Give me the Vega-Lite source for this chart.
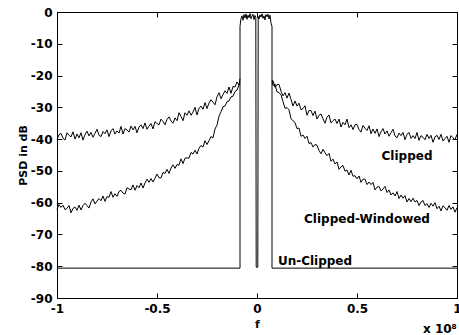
{
  "$schema": "https://vega.github.io/schema/vega-lite/v6.json",
  "width": 400,
  "height": 286,
  "autosize": "none",
  "padding": {"left": 57, "top": 12, "right": 2, "bottom": 37},
  "background": "white",
  "config": {
    "view": {"stroke": "black", "strokeWidth": 1},
    "axis": {
      "grid": false,
      "domainColor": "black",
      "tickColor": "black",
      "labelColor": "black",
      "titleColor": "black",
      "labelFont": "DejaVu Sans",
      "titleFont": "DejaVu Sans",
      "labelFontWeight": "bold",
      "titleFontWeight": "bold",
      "labelFontSize": 12,
      "titleFontSize": 11,
      "tickSize": -5,
      "domainWidth": 1,
      "tickWidth": 1
    }
  },
  "datasets": {
    "psd": [
      {"s":"L","f":-1.00,"c":-40.2,"w":-62.1},{"s":"L","f":-0.99,"c":-38.6,"w":-60.6},{"s":"L","f":-0.98,"c":-38.2,"w":-61.5},{"s":"L","f":-0.97,"c":-39.7,"w":-60.8},{"s":"L","f":-0.96,"c":-40.3,"w":-62.2},{"s":"L","f":-0.95,"c":-38.0,"w":-61.8},{"s":"L","f":-0.94,"c":-38.8,"w":-60.9},{"s":"L","f":-0.93,"c":-39.3,"w":-63.2},{"s":"L","f":-0.92,"c":-37.7,"w":-61.8},{"s":"L","f":-0.91,"c":-40.0,"w":-61.4},
      {"s":"L","f":-0.90,"c":-38.4,"w":-62.4},{"s":"L","f":-0.89,"c":-39.6,"w":-60.8},{"s":"L","f":-0.88,"c":-38.0,"w":-62.3},{"s":"L","f":-0.87,"c":-40.3,"w":-60.9},{"s":"L","f":-0.86,"c":-38.6,"w":-60.2},{"s":"L","f":-0.85,"c":-37.5,"w":-60.9},{"s":"L","f":-0.84,"c":-39.0,"w":-61.7},{"s":"L","f":-0.83,"c":-37.9,"w":-59.8},{"s":"L","f":-0.82,"c":-39.4,"w":-58.8},{"s":"L","f":-0.81,"c":-38.2,"w":-60.4},
      {"s":"L","f":-0.80,"c":-36.9,"w":-59.5},{"s":"L","f":-0.79,"c":-38.8,"w":-58.7},{"s":"L","f":-0.78,"c":-39.2,"w":-59.4},{"s":"L","f":-0.77,"c":-37.6,"w":-57.9},{"s":"L","f":-0.76,"c":-38.3,"w":-59.6},{"s":"L","f":-0.75,"c":-37.1,"w":-58.1},{"s":"L","f":-0.74,"c":-39.2,"w":-58.3},{"s":"L","f":-0.73,"c":-37.4,"w":-56.5},{"s":"L","f":-0.72,"c":-36.7,"w":-58.3},{"s":"L","f":-0.71,"c":-38.4,"w":-57.2},
      {"s":"L","f":-0.70,"c":-37.4,"w":-58.0},{"s":"L","f":-0.69,"c":-38.1,"w":-56.5},{"s":"L","f":-0.68,"c":-36.0,"w":-56.1},{"s":"L","f":-0.67,"c":-38.4,"w":-57.0},{"s":"L","f":-0.66,"c":-36.7,"w":-57.3},{"s":"L","f":-0.65,"c":-37.1,"w":-55.3},{"s":"L","f":-0.64,"c":-37.8,"w":-55.7},{"s":"L","f":-0.63,"c":-35.9,"w":-55.9},{"s":"L","f":-0.62,"c":-37.1,"w":-54.4},{"s":"L","f":-0.61,"c":-36.0,"w":-56.1},
      {"s":"L","f":-0.60,"c":-38.0,"w":-54.6},{"s":"L","f":-0.59,"c":-36.2,"w":-55.3},{"s":"L","f":-0.58,"c":-35.5,"w":-53.8},{"s":"L","f":-0.57,"c":-36.7,"w":-55.4},{"s":"L","f":-0.56,"c":-34.9,"w":-53.8},{"s":"L","f":-0.55,"c":-36.9,"w":-52.6},{"s":"L","f":-0.54,"c":-35.9,"w":-53.6},{"s":"L","f":-0.53,"c":-35.1,"w":-52.4},{"s":"L","f":-0.52,"c":-36.8,"w":-53.5},{"s":"L","f":-0.51,"c":-34.5,"w":-52.3},
      {"s":"L","f":-0.50,"c":-35.1,"w":-51.0},{"s":"L","f":-0.49,"c":-35.5,"w":-52.2},{"s":"L","f":-0.48,"c":-33.7,"w":-52.2},{"s":"L","f":-0.47,"c":-34.4,"w":-50.5},{"s":"L","f":-0.46,"c":-35.5,"w":-50.8},{"s":"L","f":-0.45,"c":-33.8,"w":-49.5},{"s":"L","f":-0.44,"c":-33.0,"w":-50.8},{"s":"L","f":-0.43,"c":-34.3,"w":-49.1},{"s":"L","f":-0.42,"c":-35.0,"w":-48.1},{"s":"L","f":-0.41,"c":-33.3,"w":-49.2},
      {"s":"L","f":-0.40,"c":-34.2,"w":-48.0},{"s":"L","f":-0.39,"c":-31.7,"w":-48.2},{"s":"L","f":-0.38,"c":-32.9,"w":-46.2},{"s":"L","f":-0.37,"c":-34.2,"w":-47.7},{"s":"L","f":-0.36,"c":-31.7,"w":-46.0},{"s":"L","f":-0.35,"c":-32.5,"w":-45.9},{"s":"L","f":-0.34,"c":-31.1,"w":-46.0},{"s":"L","f":-0.33,"c":-32.5,"w":-44.2},{"s":"L","f":-0.32,"c":-31.5,"w":-44.7},{"s":"L","f":-0.31,"c":-30.0,"w":-43.5},
      {"s":"L","f":-0.30,"c":-32.4,"w":-44.7},{"s":"L","f":-0.29,"c":-30.3,"w":-42.9},{"s":"L","f":-0.28,"c":-29.6,"w":-42.0},{"s":"L","f":-0.27,"c":-30.6,"w":-42.5},{"s":"L","f":-0.26,"c":-28.5,"w":-40.5},{"s":"L","f":-0.25,"c":-30.4,"w":-41.7},{"s":"L","f":-0.24,"c":-28.6,"w":-40.5},{"s":"L","f":-0.23,"c":-27.6,"w":-39.2},{"s":"L","f":-0.22,"c":-28.4,"w":-39.6},{"s":"L","f":-0.21,"c":-29.2,"w":-36.8},
      {"s":"L","f":-0.20,"c":-26.7,"w":-35.6},{"s":"L","f":-0.19,"c":-25.4,"w":-32.8},{"s":"L","f":-0.18,"c":-27.3,"w":-31.4},{"s":"L","f":-0.17,"c":-26.0,"w":-29.8},{"s":"L","f":-0.16,"c":-24.8,"w":-29.6},{"s":"L","f":-0.15,"c":-25.6,"w":-28.2},{"s":"L","f":-0.14,"c":-23.6,"w":-28.0},{"s":"L","f":-0.13,"c":-25.6,"w":-26.7},{"s":"L","f":-0.12,"c":-23.4,"w":-26.5},{"s":"L","f":-0.11,"c":-23.6,"w":-25.0},
      {"s":"L","f":-0.10,"c":-22.0,"w":-24.6},{"s":"L","f":-0.09,"c":-23.0,"w":-23.0},{"s":"L","f":-0.085,"c":-21.0,"w":-22.0},
      {"s":"R","f":0.075,"c":-21.6,"w":-21.6},{"s":"R","f":0.08,"c":-21.6,"w":-23.1},{"s":"R","f":0.09,"c":-23.7,"w":-22.7},{"s":"R","f":0.10,"c":-22.8,"w":-25.1},{"s":"R","f":0.11,"c":-22.8,"w":-25.4},{"s":"R","f":0.12,"c":-24.9,"w":-26.0},{"s":"R","f":0.13,"c":-26.4,"w":-28.2},{"s":"R","f":0.14,"c":-25.4,"w":-30.3},{"s":"R","f":0.15,"c":-27.1,"w":-30.1},{"s":"R","f":0.16,"c":-25.5,"w":-30.8},
      {"s":"R","f":0.17,"c":-27.5,"w":-33.6},{"s":"R","f":0.18,"c":-29.6,"w":-34.2},{"s":"R","f":0.19,"c":-28.0,"w":-34.8},{"s":"R","f":0.20,"c":-29.6,"w":-36.7},{"s":"R","f":0.21,"c":-28.7,"w":-36.5},{"s":"R","f":0.22,"c":-30.8,"w":-39.1},{"s":"R","f":0.23,"c":-30.4,"w":-38.7},{"s":"R","f":0.24,"c":-29.5,"w":-39.8},{"s":"R","f":0.25,"c":-32.5,"w":-39.1},{"s":"R","f":0.26,"c":-31.0,"w":-41.4},
      {"s":"R","f":0.27,"c":-31.0,"w":-41.1},{"s":"R","f":0.28,"c":-32.6,"w":-42.5},{"s":"R","f":0.29,"c":-31.2,"w":-41.7},{"s":"R","f":0.30,"c":-33.7,"w":-41.9},{"s":"R","f":0.31,"c":-32.5,"w":-43.6},{"s":"R","f":0.32,"c":-32.1,"w":-44.6},{"s":"R","f":0.33,"c":-33.6,"w":-43.2},{"s":"R","f":0.34,"c":-35.0,"w":-44.3},{"s":"R","f":0.35,"c":-33.1,"w":-45.2},{"s":"R","f":0.36,"c":-32.4,"w":-44.5},
      {"s":"R","f":0.37,"c":-34.9,"w":-47.0},{"s":"R","f":0.38,"c":-34.2,"w":-46.3},{"s":"R","f":0.39,"c":-33.7,"w":-47.8},{"s":"R","f":0.40,"c":-35.1,"w":-47.2},{"s":"R","f":0.41,"c":-33.7,"w":-49.5},{"s":"R","f":0.42,"c":-36.2,"w":-48.7},{"s":"R","f":0.43,"c":-34.7,"w":-48.3},{"s":"R","f":0.44,"c":-35.5,"w":-50.1},{"s":"R","f":0.45,"c":-33.7,"w":-49.7},{"s":"R","f":0.46,"c":-36.4,"w":-51.3},
      {"s":"R","f":0.47,"c":-35.5,"w":-49.8},{"s":"R","f":0.48,"c":-37.0,"w":-51.7},{"s":"R","f":0.49,"c":-35.5,"w":-51.5},{"s":"R","f":0.50,"c":-35.4,"w":-52.5},{"s":"R","f":0.51,"c":-37.0,"w":-51.6},{"s":"R","f":0.52,"c":-37.8,"w":-53.6},{"s":"R","f":0.53,"c":-35.7,"w":-52.6},{"s":"R","f":0.54,"c":-36.6,"w":-52.6},{"s":"R","f":0.55,"c":-37.3,"w":-54.3},{"s":"R","f":0.56,"c":-35.8,"w":-53.5},
      {"s":"R","f":0.57,"c":-38.3,"w":-54.3},{"s":"R","f":0.58,"c":-36.8,"w":-53.6},{"s":"R","f":0.59,"c":-38.2,"w":-56.0},{"s":"R","f":0.60,"c":-36.8,"w":-55.1},{"s":"R","f":0.61,"c":-39.2,"w":-54.9},{"s":"R","f":0.62,"c":-37.7,"w":-56.3},{"s":"R","f":0.63,"c":-36.7,"w":-55.7},{"s":"R","f":0.64,"c":-38.4,"w":-54.9},{"s":"R","f":0.65,"c":-37.4,"w":-56.8},{"s":"R","f":0.66,"c":-39.1,"w":-56.0},
      {"s":"R","f":0.67,"c":-38.0,"w":-57.6},{"s":"R","f":0.68,"c":-36.9,"w":-56.9},{"s":"R","f":0.69,"c":-39.0,"w":-57.9},{"s":"R","f":0.70,"c":-39.6,"w":-56.5},{"s":"R","f":0.71,"c":-38.1,"w":-58.7},{"s":"R","f":0.72,"c":-38.9,"w":-57.6},{"s":"R","f":0.73,"c":-37.9,"w":-58.6},{"s":"R","f":0.74,"c":-40.2,"w":-57.8},{"s":"R","f":0.75,"c":-38.5,"w":-59.8},{"s":"R","f":0.76,"c":-37.9,"w":-58.7},
      {"s":"R","f":0.77,"c":-39.8,"w":-59.7},{"s":"R","f":0.78,"c":-38.9,"w":-58.6},{"s":"R","f":0.79,"c":-39.8,"w":-59.8},{"s":"R","f":0.80,"c":-37.9,"w":-59.3},{"s":"R","f":0.81,"c":-40.4,"w":-60.9},{"s":"R","f":0.82,"c":-38.9,"w":-59.8},{"s":"R","f":0.83,"c":-39.4,"w":-59.3},{"s":"R","f":0.84,"c":-40.2,"w":-60.9},{"s":"R","f":0.85,"c":-38.5,"w":-60.3},{"s":"R","f":0.86,"c":-39.8,"w":-61.5},
      {"s":"R","f":0.87,"c":-38.8,"w":-60.2},{"s":"R","f":0.88,"c":-41.0,"w":-61.1},{"s":"R","f":0.89,"c":-39.3,"w":-60.0},{"s":"R","f":0.90,"c":-38.8,"w":-61.9},{"s":"R","f":0.91,"c":-40.1,"w":-61.1},{"s":"R","f":0.92,"c":-38.5,"w":-62.6},{"s":"R","f":0.93,"c":-40.6,"w":-61.0},{"s":"R","f":0.94,"c":-39.8,"w":-61.6},{"s":"R","f":0.95,"c":-39.1,"w":-62.4},{"s":"R","f":0.96,"c":-41.0,"w":-60.9},
      {"s":"R","f":0.97,"c":-38.9,"w":-62.1},{"s":"R","f":0.98,"c":-39.6,"w":-61.3},{"s":"R","f":0.99,"c":-40.2,"w":-63.0},{"s":"R","f":1.00,"c":-38.5,"w":-61.6}
    ],
    "unclipped": [
      {"i":0,"f":-1,"p":-80.6},{"i":1,"f":-0.085,"p":-80.6},{"i":2,"f":-0.085,"p":-4.5},{"i":3,"f":-0.08,"p":-2.0},{"i":4,"f":-0.075,"p":-1.2},{"i":5,"f":-0.07,"p":-2.6},{"i":6,"f":-0.065,"p":-0.8},{"i":7,"f":-0.06,"p":-1.9},{"i":8,"f":-0.055,"p":-0.6},{"i":9,"f":-0.05,"p":-2.3},{"i":10,"f":-0.045,"p":-1.0},{"i":11,"f":-0.04,"p":-1.8},{"i":12,"f":-0.035,"p":-0.5},{"i":13,"f":-0.03,"p":-2.1},{"i":14,"f":-0.025,"p":-1.3},{"i":15,"f":-0.02,"p":-0.7},{"i":16,"f":-0.015,"p":-2.4},{"i":17,"f":-0.01,"p":-1.1},{"i":18,"f":-0.006,"p":-1.7},{"i":19,"f":-0.004,"p":-80.3},{"i":20,"f":0.004,"p":-80.3},{"i":21,"f":0.006,"p":-1.4},{"i":22,"f":0.01,"p":-2.2},{"i":23,"f":0.015,"p":-0.9},{"i":24,"f":0.02,"p":-1.6},{"i":25,"f":0.025,"p":-0.6},{"i":26,"f":0.03,"p":-2.0},{"i":27,"f":0.035,"p":-1.2},{"i":28,"f":0.04,"p":-2.5},{"i":29,"f":0.045,"p":-0.8},{"i":30,"f":0.05,"p":-1.5},{"i":31,"f":0.055,"p":-0.7},{"i":32,"f":0.06,"p":-2.2},{"i":33,"f":0.065,"p":-1.0},{"i":34,"f":0.07,"p":-3.5},{"i":35,"f":0.075,"p":-4.6},{"i":36,"f":0.075,"p":-80.6},{"i":37,"f":1,"p":-80.6}
    ],
    "labels": [
      {"t":"Clipped","f":0.75,"p":-45.3},
      {"t":"Clipped-Windowed","f":0.55,"p":-65.1},
      {"t":"Un-Clipped","f":0.29,"p":-78.3}
    ],
    "exp": [
      {"t":"x 10⁸","f":0.83,"p":-99.8}
    ]
  },
  "layer": [
    {
      "data": {"name": "psd"},
      "transform": [{"fold": ["c", "w"], "as": ["k", "p"]}],
      "mark": {"type": "line", "color": "black", "strokeWidth": 1},
      "encoding": {
        "x": {"field": "f", "type": "quantitative", "scale": {"domain": [-1, 1], "nice": false},
              "axis": {"orient": "bottom", "values": [-1, -0.5, 0, 0.5, 1], "labelExpr": "'' + datum.value", "title": "f", "titlePadding": 4, "labelPadding": 10, "labelFlush": false}},
        "y": {"field": "p", "type": "quantitative", "scale": {"domain": [-90, 0], "nice": false},
              "axis": {"orient": "left", "values": [0, -10, -20, -30, -40, -50, -60, -70, -80, -90], "labelExpr": "'' + datum.value", "title": "PSD in dB", "titlePadding": 2, "labelPadding": 10}},
        "detail": [{"field": "k"}, {"field": "s"}]
      }
    },
    {
      "data": {"name": "unclipped"},
      "mark": {"type": "line", "color": "black", "strokeWidth": 1},
      "encoding": {
        "x": {"field": "f", "type": "quantitative", "axis": {"orient": "top", "values": [-1, -0.5, 0, 0.5, 1], "labels": false, "title": null}},
        "y": {"field": "p", "type": "quantitative", "axis": {"orient": "right", "values": [0, -10, -20, -30, -40, -50, -60, -70, -80, -90], "labels": false, "title": null}},
        "order": {"field": "i", "type": "quantitative"}
      }
    },
    {
      "data": {"name": "labels"},
      "mark": {"type": "text", "font": "DejaVu Sans", "fontWeight": "bold", "fontSize": 12, "baseline": "middle", "align": "center", "color": "black"},
      "encoding": {
        "x": {"field": "f", "type": "quantitative", "axis": null},
        "y": {"field": "p", "type": "quantitative", "axis": null},
        "text": {"field": "t"}
      }
    },
    {
      "data": {"name": "exp"},
      "mark": {"type": "text", "font": "DejaVu Sans", "fontWeight": "bold", "fontSize": 12, "baseline": "middle", "align": "left", "color": "black"},
      "encoding": {
        "x": {"field": "f", "type": "quantitative", "axis": null},
        "y": {"field": "p", "type": "quantitative", "axis": null},
        "text": {"field": "t"}
      }
    }
  ],
  "resolve": {"axis": {"x": "independent", "y": "independent"}}
}
